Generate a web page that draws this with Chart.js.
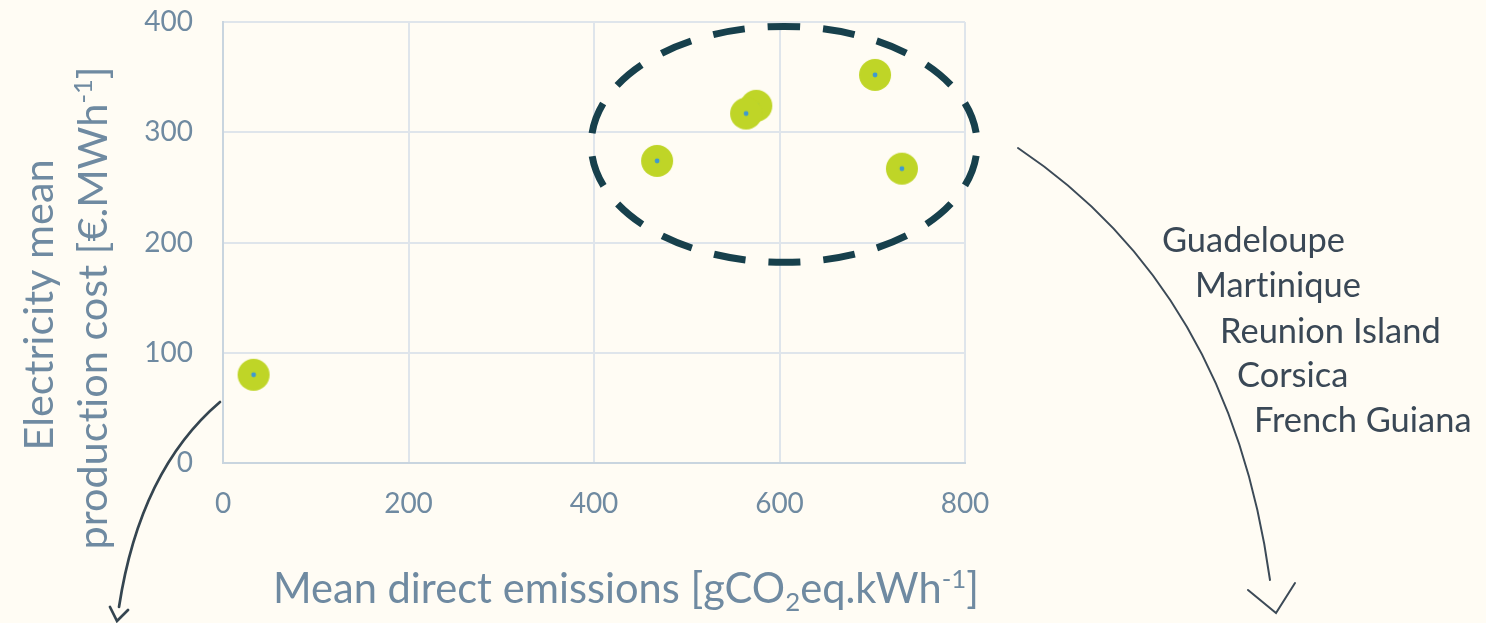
<!DOCTYPE html>
<html lang="en">
<head>
<meta charset="UTF-8">
<title>Emissions vs production cost</title>
<script src="https://cdn.jsdelivr.net/npm/chart.js@4.4.0/dist/chart.umd.min.js"></script>
<style>
  body { margin: 0; background: #fffcf4; }
  #wrap { width: 1486px; height: 623px; }
</style>
</head>
<body>
<div id="wrap"><canvas id="chart" width="1486" height="623"></canvas></div>
<script>
// values
const emissions = [33, 468, 575, 564, 703, 732];   // gCO2eq/kWh
const costs = [80, 274, 324, 317, 352, 267];       // €/MWh
const xTicks = [0, 200, 400, 600, 800];
const yTicks = [0, 100, 200, 300, 400];
const groupLabels = ['Guadeloupe', 'Martinique', 'Reunion Island', 'Corsica', 'French Guiana'];

const FONT = 'Lato';
const AXIS_TEXT = '#6f8aa1';
const DARK = '#3a4856';

// the dashed ring round the island group, in data units
const ring = { x: 605, y: 289, rx: 208, ry: 107 };

function makeMarker() {
  const c = document.createElement('canvas');
  c.width = 34; c.height = 34;
  const g = c.getContext('2d');
  g.fillStyle = '#bfd527';
  g.beginPath(); g.arc(17, 17, 16, 0, Math.PI * 2); g.fill();
  g.fillStyle = '#3e9ad0';
  g.beginPath(); g.arc(17, 17, 2.4, 0, Math.PI * 2); g.fill();
  return c;
}

// text with sub/superscripts: parts = [[text, 'n'|'sub'|'sup'], ...]
function setFont(ctx, size) {
  ctx.font = size + 'px ' + FONT;
  ctx.letterSpacing = '0.01px'; // keeps Lato from joining "ti"
}
function richWidth(ctx, parts, size) {
  let w = 0;
  parts.forEach(p => {
    setFont(ctx, p[1] === 'n' ? size : size * 0.62);
    w += ctx.measureText(p[0]).width;
  });
  return w;
}
function drawRich(ctx, parts, x, y, size) {
  ctx.textBaseline = 'alphabetic';
  ctx.textAlign = 'left';
  parts.forEach(p => {
    let dy = 0;
    if (p[1] === 'sup') dy = -size * 0.36;
    if (p[1] === 'sub') dy = size * 0.2;
    setFont(ctx, p[1] === 'n' ? size : size * 0.62);
    ctx.fillText(p[0], x, y + dy);
    x += ctx.measureText(p[0]).width;
  });
}
function fitSize(ctx, parts, target) {
  return 100 * target / richWidth(ctx, parts, 100);
}

const xTitle = [['Mean direct emissions [gCO', 'n'], ['2', 'sub'], ['eq.kWh', 'n'], ['-1', 'sup'], [']', 'n']];
const yTitle1 = [['Electricity mean', 'n']];
const yTitle2 = [['production cost [€.MWh', 'n'], ['-1', 'sup'], [']', 'n']];

const background = {
  id: 'background',
  beforeDraw(chart) {
    const ctx = chart.ctx;
    ctx.save();
    ctx.fillStyle = '#fffcf4';
    ctx.fillRect(0, 0, chart.width, chart.height);
    ctx.restore();
  }
};

const annotations = {
  id: 'annotations',
  afterDraw(chart) {
    const ctx = chart.ctx;
    const xs = chart.scales.x, ys = chart.scales.y;
    ctx.save();

    // dashed ellipse
    const cx = xs.getPixelForValue(ring.x), cy = ys.getPixelForValue(ring.y);
    const rx = xs.getPixelForValue(ring.x + ring.rx) - cx;
    const ry = cy - ys.getPixelForValue(ring.y + ring.ry);
    ctx.strokeStyle = '#17404c';
    ctx.lineWidth = 7;
    ctx.setLineDash([32, 23]);
    ctx.lineDashOffset = 16;
    ctx.beginPath();
    ctx.ellipse(cx, cy, rx, ry, 0, -Math.PI / 2, Math.PI * 1.5);
    ctx.stroke();
    ctx.setLineDash([]);

    // curved arrows
    ctx.lineCap = 'round';
    ctx.strokeStyle = '#3c4a57';
    ctx.lineWidth = 2;
    ctx.beginPath();
    ctx.moveTo(1018, 148);
    ctx.quadraticCurveTo(1230, 290, 1270, 580);
    ctx.stroke();
    ctx.beginPath();
    ctx.moveTo(1248, 590); ctx.lineTo(1276, 613); ctx.lineTo(1295, 583);
    ctx.stroke();

    ctx.strokeStyle = '#354550';
    ctx.lineWidth = 2.7;
    ctx.beginPath();
    ctx.moveTo(220, 402);
    ctx.quadraticCurveTo(140, 470, 119, 607);
    ctx.stroke();
    ctx.beginPath();
    ctx.moveTo(110, 607); ctx.lineTo(117, 621); ctx.lineTo(128, 610);
    ctx.stroke();

    // group labels
    const labelSize = fitSize(ctx, [[groupLabels[0], 'n']], 183);
    const labelPos = [[1162, 252], [1195, 297], [1220, 343], [1237, 387], [1254, 432]];
    ctx.fillStyle = DARK;
    groupLabels.forEach((t, i) => drawRich(ctx, [[t, 'n']], labelPos[i][0], labelPos[i][1], labelSize));

    // axis titles
    ctx.fillStyle = AXIS_TEXT;
    const xs1 = fitSize(ctx, xTitle, 706);
    drawRich(ctx, xTitle, 626 - richWidth(ctx, xTitle, xs1) / 2, 603, xs1);

    const ySize = fitSize(ctx, yTitle2, 483);
    ctx.save();
    ctx.translate(53, 305);
    ctx.rotate(-Math.PI / 2);
    drawRich(ctx, yTitle1, -richWidth(ctx, yTitle1, ySize) / 2, 0, ySize);
    ctx.restore();
    ctx.save();
    ctx.translate(107, 308);
    ctx.rotate(-Math.PI / 2);
    drawRich(ctx, yTitle2, -richWidth(ctx, yTitle2, ySize) / 2, 0, ySize);
    ctx.restore();

    ctx.restore();
  }
};

const marker = makeMarker();

new Chart(document.getElementById('chart'), {
  type: 'scatter',
  data: {
    datasets: [{
      data: emissions.map((e, i) => ({ x: e, y: costs[i] })),
      pointStyle: marker,
      pointRadius: 16,
      pointHoverRadius: 16
    }]
  },
  options: {
    responsive: false,
    animation: false,
    events: [],
    layout: { padding: { top: 22, right: 521, left: 0, bottom: 0 } },
    plugins: { legend: { display: false }, tooltip: { enabled: false } },
    scales: {
      x: {
        type: 'linear',
        min: xTicks[0],
        max: xTicks[xTicks.length - 1],
        ticks: { stepSize: xTicks[1] - xTicks[0], color: AXIS_TEXT, font: { family: FONT, size: 28 }, padding: 24 },
        grid: { color: '#dfe5eb', lineWidth: 2, drawTicks: false },
        border: { color: '#c9d5df', width: 2 },
        afterFit(scale) {
          scale.height = 160;
          scale.paddingLeft = 0; scale.paddingRight = 0;
        }
      },
      y: {
        type: 'linear',
        min: yTicks[0],
        max: yTicks[yTicks.length - 1],
        ticks: { stepSize: yTicks[1] - yTicks[0], color: AXIS_TEXT, font: { family: FONT, size: 28 }, padding: 30 },
        grid: { color: '#dfe5eb', lineWidth: 2, drawTicks: false },
        border: { color: '#c9d5df', width: 2 },
        afterFit(scale) {
          scale.width = 223;
          scale.paddingTop = 0; scale.paddingBottom = 0;
        }
      }
    }
  },
  plugins: [background, annotations]
});
</script>
</body>
</html>
